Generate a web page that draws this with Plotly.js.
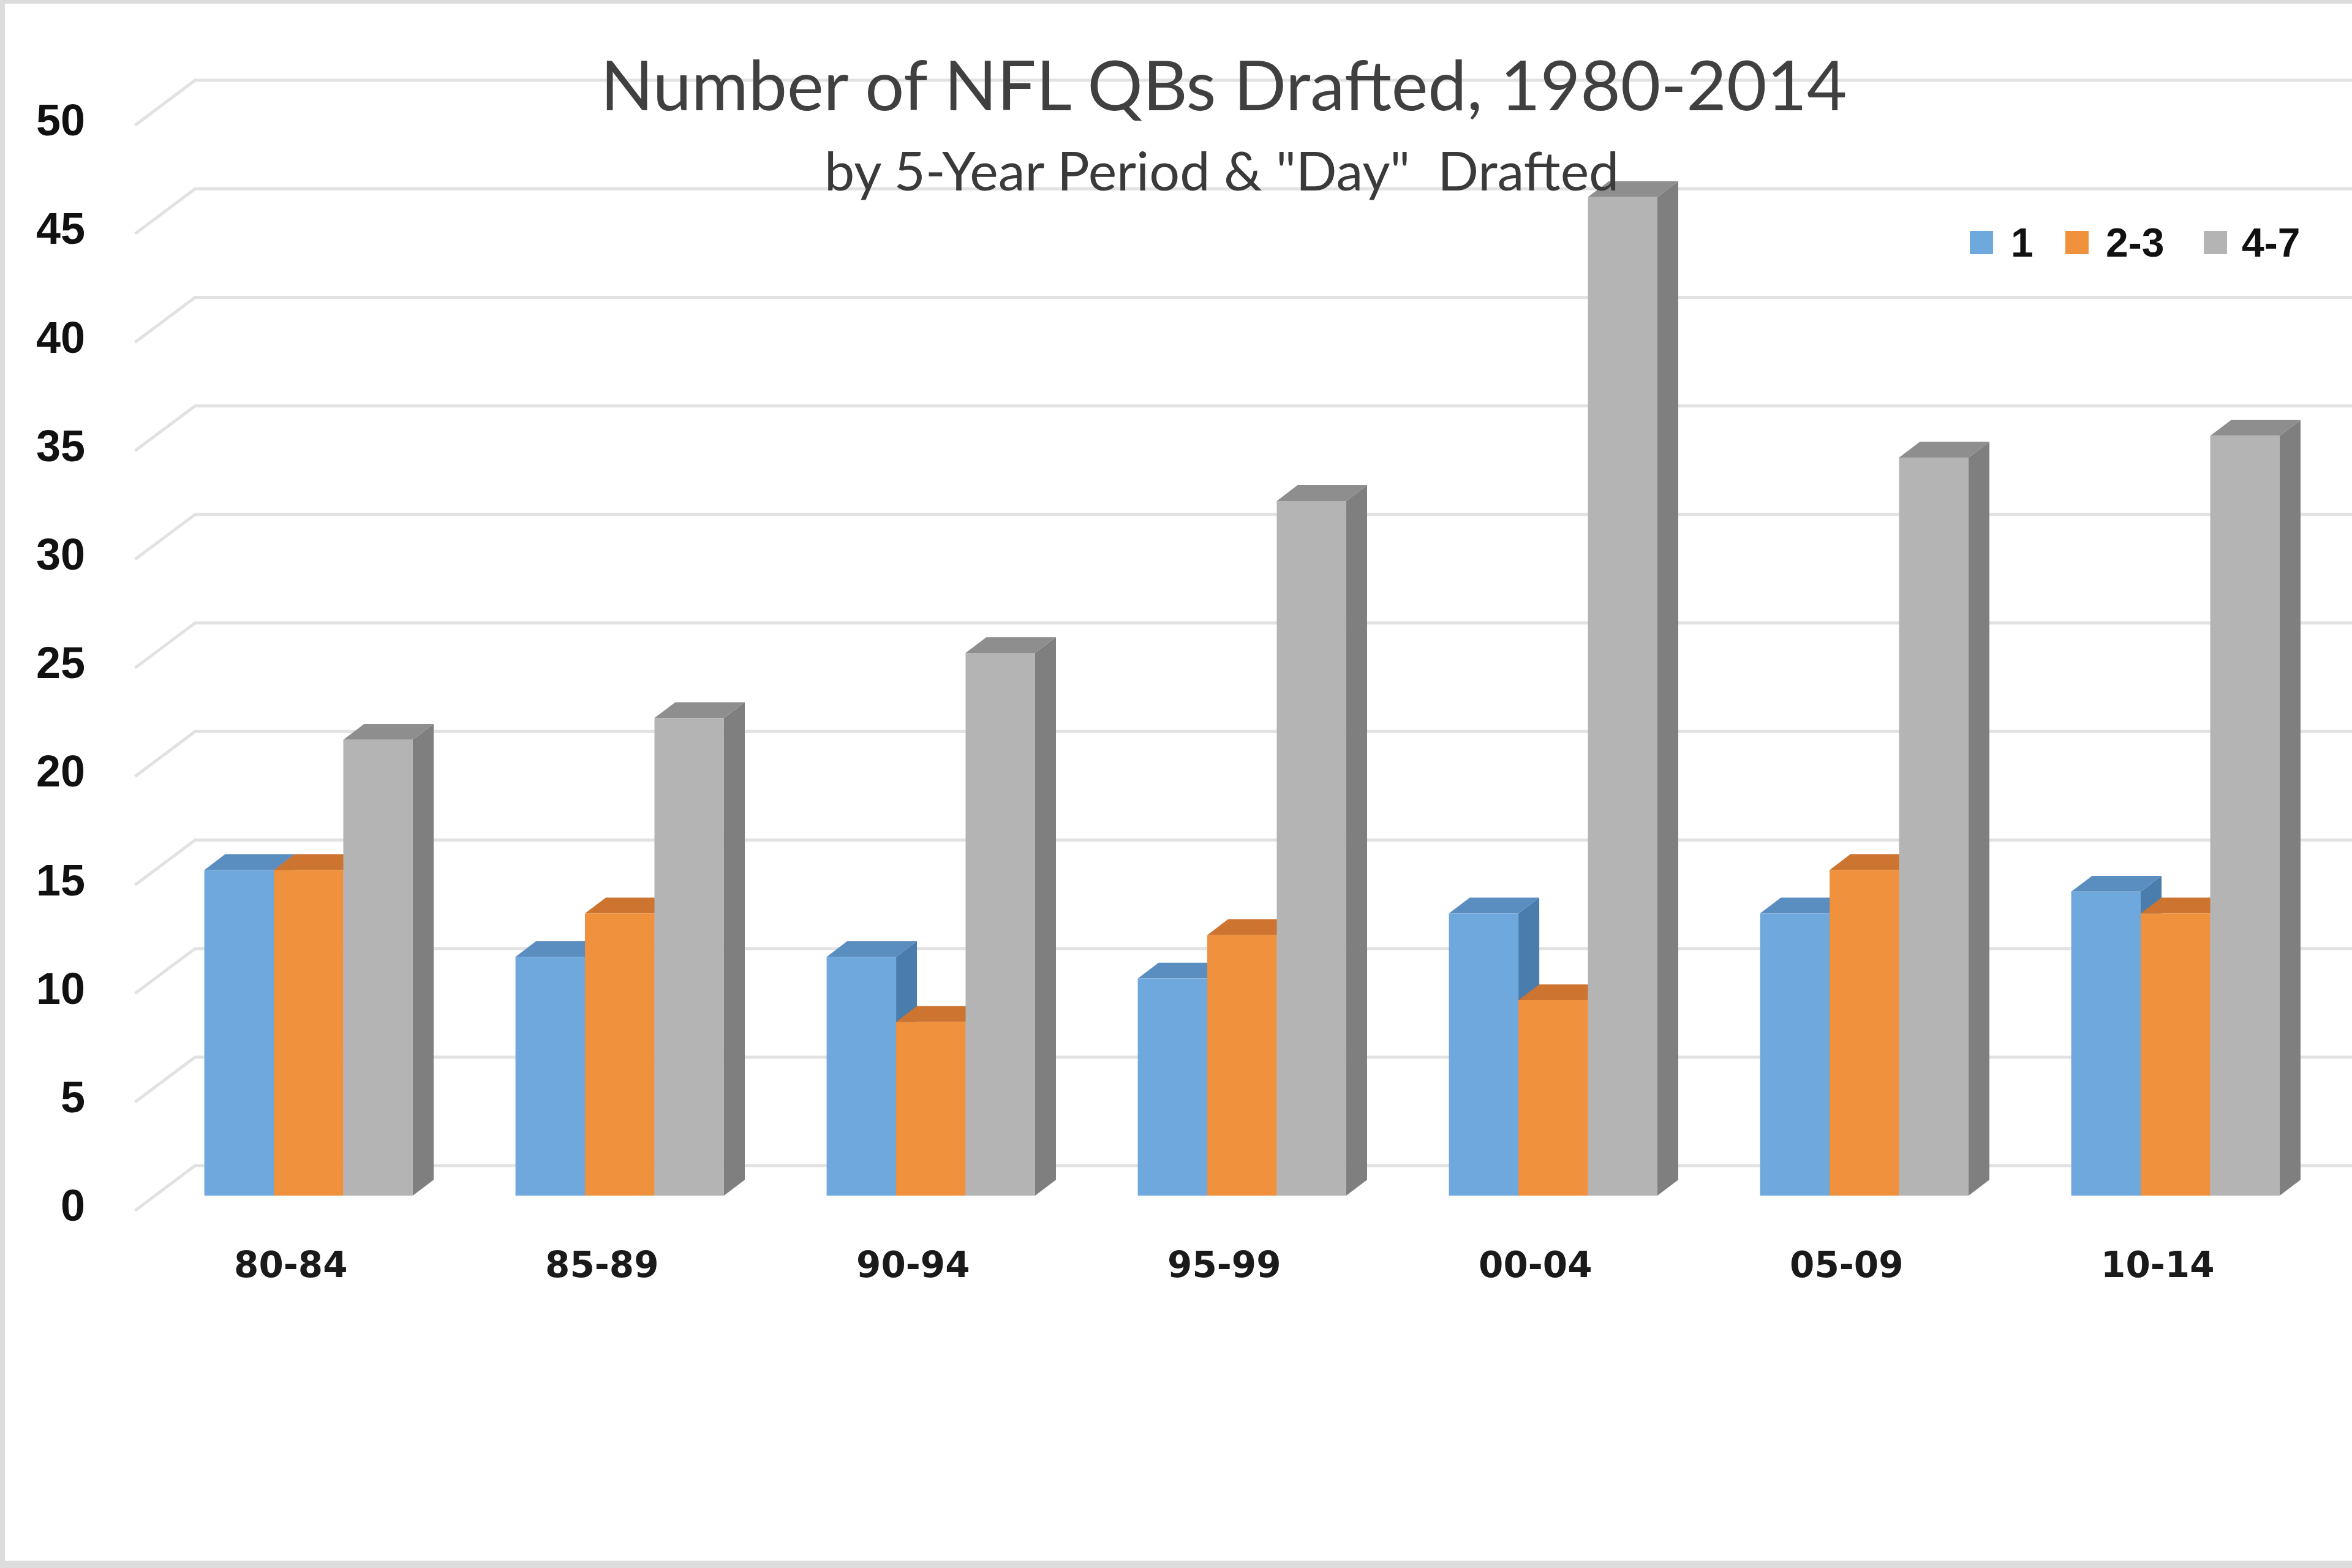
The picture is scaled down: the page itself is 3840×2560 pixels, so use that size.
<!DOCTYPE html>
<html>
<head>
<meta charset="utf-8">
<script src="https://cdn.plot.ly/plotly-3.0.1.min.js"></script>
<style>
  html, body { margin: 0; padding: 0; background: #ffffff; }
  #chart { width: 3840px; height: 2560px; }
</style>
</head>
<body>
<div id="chart"></div>
<script>
// ---------- data ----------
const periods = ["80-84", "85-89", "90-94", "95-99", "00-04", "05-09", "10-14"];
const seriesNames = ["1", "2-3", "4-7"];
const day1 = [15, 11, 11, 10, 13, 13, 14];
const day23 = [15, 13, 8, 12, 9, 15, 13];
const day47 = [21, 22, 25, 32, 46, 34, 35];
const yTicks = [0, 5, 10, 15, 20, 25, 30, 35, 40, 45, 50];

// ---------- styling ----------
const frontColors = ["#6FA8DC", "#F0913D", "#B4B4B4"];
const topColors   = ["#5A8DC0", "#CC7430", "#8E8E8E"];
const sideColors  = ["#4A7CAC", "#C06A28", "#7F7F7F"];
const TICK_FONT = "Liberation Sans, Arial, sans-serif";

const W = 3840, H = 2560;
const M = { l: 216, r: 0, t: 98, b: 564 };
const plotW = W - M.l - M.r, plotH = H - M.t - M.b;
const xRange = [-0.5665, -0.5665 + plotW / 508];
const yRange = [-1.2415, -1.2415 + plotH / 35.44];

const BARGAP = 0.33;
const barW = (1 - BARGAP) / 3;
const DX = 0.067, DY = 0.73;          // bar depth (data units)
const WALL_FRONT = -0.69, WALL_BACK = 1.38;
const X_FRONT = -0.5577, X_BACK = -0.3646;

function px2paperX(X) { return (X - M.l) / plotW; }
function px2paperY(Y) { return 1 - (Y - M.t) / plotH; }

const series = [day1, day23, day47];

const traces = series.map((vals, s) => ({
  type: "bar",
  name: seriesNames[s],
  x: periods,
  y: vals,
  marker: { color: frontColors[s], line: { width: 0 } },
  showlegend: false,
  hoverinfo: "x+y+name"
}));

const shapes = [];
// back wall gridlines with left perspective diagonal
yTicks.forEach(v => {
  shapes.push({
    type: "path", xref: "x", yref: "y", layer: "below",
    path: `M ${X_FRONT},${v + WALL_FRONT} L ${X_BACK},${v + WALL_BACK} L ${xRange[1]},${v + WALL_BACK}`,
    line: { color: "#E2E2E2", width: 5 }
  });
});
// white box behind the title
shapes.push({
  type: "rect", xref: "paper", yref: "paper", layer: "below",
  x0: px2paperX(980), x1: px2paperX(3017), y0: px2paperY(160), y1: px2paperY(100),
  fillcolor: "#ffffff", line: { width: 0 }
});
// 3-D sides and tops of the bars
periods.forEach((p, i) => {
  series.forEach((vals, s) => {
    const v = vals[i];
    const left = i - (1 - BARGAP) / 2 + s * barW;
    const right = left + barW;
    shapes.push({
      type: "path", xref: "x", yref: "y", layer: "below",
      path: `M ${right},0 L ${right + DX},${DY} L ${right + DX},${v + DY} L ${right},${v} Z`,
      fillcolor: sideColors[s], line: { width: 0 }
    });
    shapes.push({
      type: "path", xref: "x", yref: "y", layer: "below",
      path: `M ${left},${v} L ${left + DX},${v + DY} L ${right + DX},${v + DY} L ${right},${v} Z`,
      fillcolor: topColors[s], line: { width: 0 }
    });
  });
});
// picture frame
shapes.push({ type: "rect", xref: "paper", yref: "paper", layer: "above",
  x0: px2paperX(0), x1: px2paperX(8), y0: px2paperY(H), y1: px2paperY(0),
  fillcolor: "#DCDCDC", line: { width: 0 } });
shapes.push({ type: "rect", xref: "paper", yref: "paper", layer: "above",
  x0: px2paperX(0), x1: px2paperX(W), y0: px2paperY(6), y1: px2paperY(0),
  fillcolor: "#DCDCDC", line: { width: 0 } });
shapes.push({ type: "rect", xref: "paper", yref: "paper", layer: "above",
  x0: px2paperX(0), x1: px2paperX(W), y0: px2paperY(H), y1: px2paperY(H - 12),
  fillcolor: "#DCDCDC", line: { width: 0 } });

// custom legend (squares + labels)
const legendSq = [3216, 3372, 3598];
const legendTx = [3281, 3436, 3658];
const legendY = 396, SQ = 38;
const annotations = [];
seriesNames.forEach((n, s) => {
  shapes.push({
    type: "rect", xref: "paper", yref: "paper", layer: "above",
    x0: px2paperX(legendSq[s]), x1: px2paperX(legendSq[s] + SQ),
    y0: px2paperY(legendY + SQ / 2), y1: px2paperY(legendY - SQ / 2),
    fillcolor: frontColors[s], line: { width: 0 }
  });
  annotations.push({
    xref: "paper", yref: "paper", x: px2paperX(legendTx[s]), y: px2paperY(legendY),
    xanchor: "left", yanchor: "middle", showarrow: false, text: n,
    font: { family: TICK_FONT, size: 66, color: "#111111", weight: "bold" }
  });
});
// subtitle
annotations.push({
  xref: "paper", yref: "paper", x: px2paperX(1994), y: px2paperY(277),
  xanchor: "center", yanchor: "middle", showarrow: false,
  text: 'by 5-Year Period &amp; "Day"  Drafted',
  font: { family: "Lato, Noto Sans, sans-serif", size: 88, color: "#3A3A3A" }
});

const layout = {
  width: W, height: H,
  margin: M,
  paper_bgcolor: "#ffffff", plot_bgcolor: "rgba(0,0,0,0)",
  title: {
    text: "Number of NFL QBs Drafted, 1980-2014",
    font: { family: "Lato, Noto Sans, sans-serif", size: 113, color: "#404040" },
    xref: "container", yref: "container", x: 1998 / W, xanchor: "center",
    y: 1 - 140 / H, yanchor: "middle"
  },
  barmode: "group", bargap: BARGAP, bargroupgap: 0,
  xaxis: {
    type: "category", range: xRange, showgrid: false, zeroline: false, showline: false,
    ticks: "", ticklabelstandoff: 30, ticklabelshift: -29,
    tickfont: { family: "DejaVu Sans, sans-serif", size: 58, color: "#1a1a1a", weight: "bold" },
    fixedrange: true
  },
  yaxis: {
    range: yRange, tickvals: yTicks, showgrid: false, zeroline: false, showline: false,
    ticks: "", ticklabelstandoff: 76, ticklabelshift: 16,
    tickfont: { family: TICK_FONT, size: 72, color: "#111111", weight: "bold" },
    fixedrange: true
  },
  shapes: shapes,
  annotations: annotations,
  showlegend: false
};

Plotly.newPlot("chart", traces, layout, { displayModeBar: false, staticPlot: true });
</script>
</body>
</html>
